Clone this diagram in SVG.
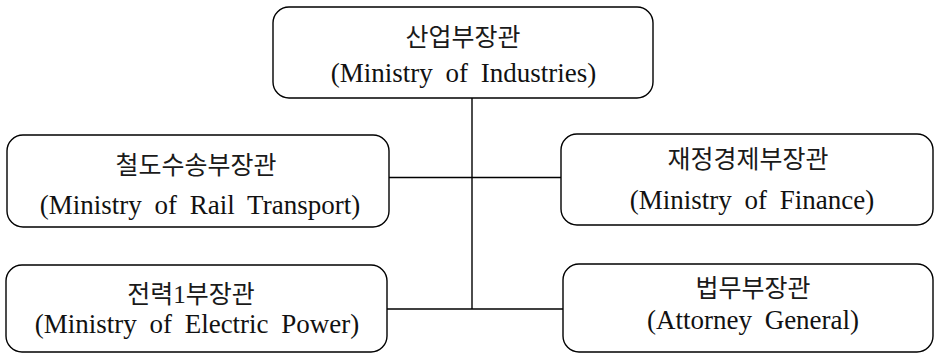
<svg xmlns="http://www.w3.org/2000/svg" width="934" height="353" viewBox="0 0 934 353">
<style>
.box{fill:#fff;stroke:#000;stroke-width:1.4}
.ko{font-family:"Liberation Serif","Noto Sans CJK KR",serif;font-size:25px;fill:#1a1a1a;text-anchor:middle}
.en{font-family:"Liberation Serif","Noto Sans CJK KR",serif;font-size:27px;fill:#111;text-anchor:middle;word-spacing:6px}
.ln{stroke:#000;stroke-width:1.4;fill:none}
</style>
<rect width="934" height="353" fill="#fff"/>
<g id="connectors">
<line class="ln" x1="472" y1="98" x2="472" y2="309"/>
<line class="ln" x1="389" y1="177.5" x2="562" y2="177.5"/>
<line class="ln" x1="387" y1="309" x2="563" y2="309"/>
</g>
<g id="node-industries">
<rect class="box" x="273" y="7" width="380" height="91" rx="16"/>
<text class="ko" x="463" y="46">산업부장관</text>
<text class="en" x="463.5" y="82">(Ministry of Industries)</text>
</g>
<g id="node-rail">
<rect class="box" x="7" y="135" width="382" height="92" rx="16"/>
<text class="ko" x="196" y="174">철도수송부장관</text>
<text class="en" x="200" y="214">(Ministry of Rail Transport)</text>
</g>
<g id="node-finance">
<rect class="box" x="561" y="134" width="372" height="91" rx="16"/>
<text class="ko" x="748" y="168">재정경제부장관</text>
<text class="en" x="752" y="209">(Ministry of Finance)</text>
</g>
<g id="node-power">
<rect class="box" x="6" y="265" width="381" height="87" rx="16"/>
<text class="ko" x="191" y="303">전력1부장관</text>
<text class="en" x="197" y="333">(Ministry of Electric Power)</text>
</g>
<g id="node-attorney">
<rect class="box" x="563" y="264" width="370" height="88" rx="16"/>
<text class="ko" x="753" y="297">법무부장관</text>
<text class="en" x="753" y="329">(Attorney General)</text>
</g>
</svg>
